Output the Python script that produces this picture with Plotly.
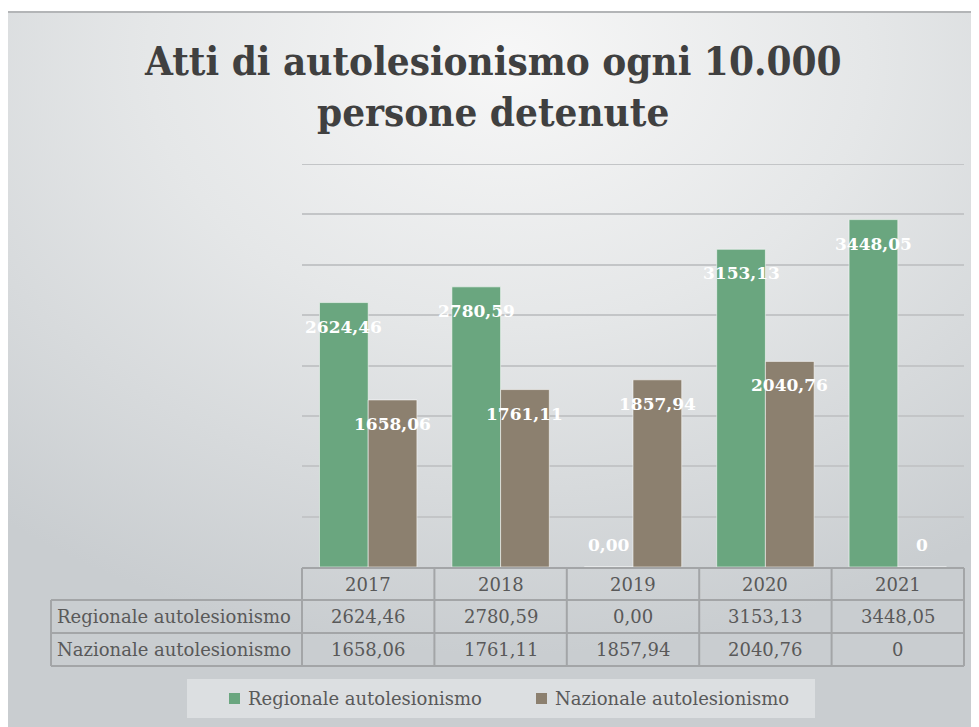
import base64
import plotly.graph_objects as go

# ---------------- data ----------------
years = ["2017", "2018", "2019", "2020", "2021"]
regionale = [2624.46, 2780.59, 0.00, 3153.13, 3448.05]
nazionale = [1658.06, 1761.11, 1857.94, 2040.76, 0]
regionale_labels = ["2624,46", "2780,59", "0,00", "3153,13", "3448,05"]
nazionale_labels = ["1658,06", "1761,11", "1857,94", "2040,76", "0"]
series_names = ["Regionale autolesionismo", "Nazionale autolesionismo"]
title_lines = ["Atti di autolesionismo ogni 10.000", "persone detenute"]

# ---------------- style ----------------
W, H = 979, 727
OFF = 8                                      # page body margin offset
PL, PR, PT, PB = 302, 964, 164, 567          # plot area in screen pixels
GREEN = "#6aa67f"
BROWN = "#8c806f"
TEXT = "#595959"
LINE = "#a3a5a7"
FONT = "DejaVu Serif"
BARGAP = 0.264
YMAX = 4000


def px(x):
    return (x - PL) / (PR - PL)


def py(y):
    return (PB - y) / (PB - PT)


idx = list(range(len(years)))
fig = go.Figure()
fig.add_trace(go.Bar(x=idx, y=regionale, name=series_names[0], marker_color=GREEN,
                     marker_line=dict(color="rgba(255,255,255,0.55)", width=1),
                     showlegend=False, hoverinfo="skip"))
fig.add_trace(go.Bar(x=idx, y=nazionale, name=series_names[1], marker_color=BROWN,
                     marker_line=dict(color="rgba(255,255,255,0.55)", width=1),
                     showlegend=False, hoverinfo="skip"))

ann = []
shapes = []
bw = (1 - BARGAP) / 2
# data labels
for vals, labs, off in ((regionale, regionale_labels, -bw / 2), (nazionale, nazionale_labels, bw / 2)):
    for i, (v, t) in enumerate(zip(vals, labs)):
        ann.append(dict(x=i + off, y=v, xref="x", yref="y", text=t, showarrow=False,
                        yshift=-24 if v > 0 else 22, yanchor="middle", xanchor="center",
                        font=dict(family=FONT, size=17, color="white", weight="bold")))

# background gradient
svg = ('<svg xmlns="http://www.w3.org/2000/svg" width="971" height="715" preserveAspectRatio="none">'
       '<defs><radialGradient id="g" cx="0.5" cy="0.06" r="0.8">'
       '<stop offset="0" stop-color="#f7f7f7"/><stop offset="0.45" stop-color="#e5e7e8"/>'
       '<stop offset="1" stop-color="#c9cdd0"/></radialGradient></defs>'
       '<rect width="971" height="715" fill="url(#g)"/></svg>')
src = "data:image/svg+xml;base64," + base64.b64encode(svg.encode()).decode()
images = [dict(source=src, xref="paper", yref="paper", x=px(8), y=py(12),
               sizex=(W + 20) / (PR - PL), sizey=(H + 20) / (PB - PT),
               xanchor="left", yanchor="top", sizing="stretch", layer="below")]

# top border of chart area
shapes.append(dict(type="line", xref="paper", yref="paper", x0=px(8), x1=px(W + 20), y0=py(12), y1=py(12),
                   line=dict(color="#b3b5b7", width=2)))

# top gridline at the axis maximum
shapes.append(dict(type="line", xref="paper", yref="y", x0=0, x1=1, y0=YMAX, y1=YMAX,
                   line=dict(color="#c3c5c7", width=2), layer="below"))

# title
for k, (t, yc) in enumerate(zip(title_lines, (60, 112))):
    ann.append(dict(x=px(493), y=py(yc), xref="paper", yref="paper", text=t, showarrow=False,
                    xanchor="center", yanchor="middle",
                    font=dict(family="DejaVu Serif Condensed, DejaVu Serif", size=40,
                              color="#404040", weight="bold")))

# data table
rows_y = [568, 600, 633, 666]
colw = (PR - PL) / len(years)
tl = dict(color=LINE, width=2)
shapes.append(dict(type="line", xref="paper", yref="paper", x0=px(PL), x1=px(PR), y0=py(568), y1=py(568), line=tl))
for yy in rows_y[1:]:
    shapes.append(dict(type="line", xref="paper", yref="paper", x0=px(51), x1=px(PR), y0=py(yy), y1=py(yy), line=tl))
shapes.append(dict(type="line", xref="paper", yref="paper", x0=px(51), x1=px(51), y0=py(600), y1=py(666), line=tl))
for c in range(len(years) + 1):
    xx = PL + c * colw
    shapes.append(dict(type="line", xref="paper", yref="paper", x0=px(xx), x1=px(xx), y0=py(568), y1=py(666), line=tl))

cell_font = dict(family=FONT, size=18, color=TEXT)
centers = [(rows_y[r] + rows_y[r + 1]) / 2 for r in range(3)]
for i, yv in enumerate(years):
    ann.append(dict(x=i, y=py(centers[0]), xref="x", yref="paper", text=yv, showarrow=False,
                    xanchor="center", yanchor="middle", font=cell_font))
    ann.append(dict(x=i, y=py(centers[1]), xref="x", yref="paper", text=regionale_labels[i], showarrow=False,
                    xanchor="center", yanchor="middle", font=cell_font))
    ann.append(dict(x=i, y=py(centers[2]), xref="x", yref="paper", text=nazionale_labels[i], showarrow=False,
                    xanchor="center", yanchor="middle", font=cell_font))
for r, name in enumerate(series_names):
    ann.append(dict(x=px(55), y=py(centers[r + 1]), xref="paper", yref="paper", text=name, showarrow=False,
                    xanchor="left", yanchor="middle", font=cell_font))

# legend
shapes.append(dict(type="rect", xref="paper", yref="paper", x0=px(187), x1=px(815), y0=py(679), y1=py(718),
                   fillcolor="#dcdfe1", line=dict(width=0), layer="below"))
for name, col, mx in ((series_names[0], GREEN, 229), (series_names[1], BROWN, 536)):
    shapes.append(dict(type="rect", xref="paper", yref="paper", x0=px(mx), x1=px(mx + 11),
                       y0=py(704), y1=py(693), fillcolor=col, line=dict(width=0)))
    ann.append(dict(x=px(mx + 17), y=py(698.5), xref="paper", yref="paper", text=name, showarrow=False,
                    xanchor="left", yanchor="middle", font=dict(family=FONT, size=18, color=TEXT)))

fig.update_layout(
    width=W, height=H,
    margin=dict(l=PL - OFF, r=W - (PR - OFF), t=PT - OFF, b=H - (PB - OFF), pad=0),
    paper_bgcolor="white", plot_bgcolor="rgba(0,0,0,0)",
    barmode="group", bargap=BARGAP, bargroupgap=0,
    xaxis=dict(range=[-0.5, len(years) - 0.5], showticklabels=False, showgrid=False,
               zeroline=False, showline=False, fixedrange=True),
    yaxis=dict(range=[0, YMAX], dtick=500, showticklabels=False, showgrid=True,
               gridcolor="#c3c5c7", gridwidth=2, zeroline=False, showline=False, fixedrange=True),
    annotations=ann, shapes=shapes, images=images,
    showlegend=False,
)
fig.write_html("out.html")
